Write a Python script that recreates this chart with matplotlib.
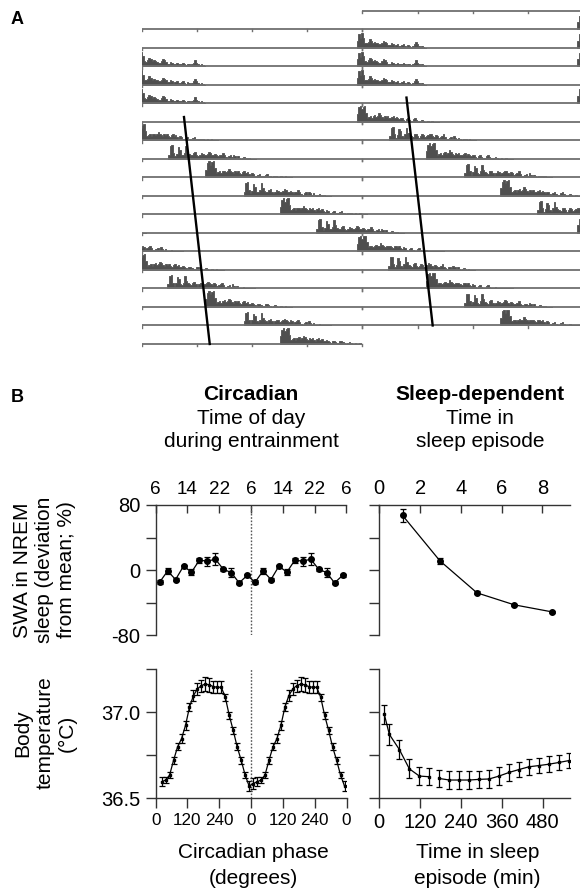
import numpy as np
import matplotlib
matplotlib.use('Agg')
import matplotlib.pyplot as plt
from matplotlib import font_manager

plt.rcParams['font.family'] = ['Liberation Sans', 'DejaVu Sans']
plt.rcParams['axes.unicode_minus'] = False

# ---------------- panel A: SWA raster (double plotted) ----------------
# sleep episodes, hours from the start of day 1
ep_start = [47.4, 71.4, 95.4, 143.4, 170.9, 198.9, 227.1, 255.0, 283.0, 311.4, 338.8, 366.9, 395.1, 423.0]
ep_len = [7.5, 7.5, 7.5, 8.9, 9.5, 9.5, 9.5, 9.5, 9.5, 9.5, 9.5, 9.5, 9.5, 9.5]
ep_kind = [0, 0, 0, 1, 2, 1, 2, 1, 2, 1, 2, 1, 2, 1]

# SWA profiles in 10-min bins (fraction of row height)
prof_base = [0.4, 0.8, 0.55, 0.85, 0.6, 0.3, 0.25, 0.35, 0.5, 0.4, 0.3, 0.35, 0.3, 0.25, 0.2,
             0.2, 0.3, 0.4, 0.35, 0.25, 0.15, 0.15, 0.25, 0.2, 0.1, 0.15, 0.2, 0.1, 0.1, 0.15,
             0.2, 0.1, 0.05, 0.15, 0.1, 0.05, 0.1, 0.2, 0.35, 0.2, 0.1, 0.05, 0.1, 0.05, 0.0]
prof_fd1 = [0.45, 0.85, 0.95, 0.75, 0.9, 0.95, 0.55, 0.25, 0.3, 0.35, 0.25, 0.35, 0.4, 0.3, 0.35,
            0.5, 0.4, 0.3, 0.25, 0.35, 0.3, 0.35, 0.25, 0.2, 0.3, 0.35, 0.25, 0.3, 0.2, 0.15,
            0.25, 0.2, 0.1, 0.05, 0.15, 0.2, 0.1, 0.05, 0.05, 0.15, 0.2, 0.1, 0.05, 0.0, 0.05,
            0.1, 0.05, 0.0, 0.0, 0.05, 0.0, 0.0, 0.05, 0.0, 0.0, 0.0, 0.0]
prof_fd2 = [0.25, 0.75, 0.8, 0.35, 0.15, 0.3, 0.7, 0.55, 0.25, 0.2, 0.35, 0.75, 0.45, 0.3, 0.25,
            0.2, 0.35, 0.4, 0.25, 0.15, 0.25, 0.35, 0.3, 0.2, 0.25, 0.3, 0.4, 0.35, 0.25, 0.2,
            0.3, 0.25, 0.15, 0.2, 0.25, 0.35, 0.2, 0.1, 0.05, 0.15, 0.2, 0.1, 0.25, 0.15, 0.05,
            0.15, 0.05, 0.0, 0.05, 0.1, 0.05, 0.0, 0.05, 0.0, 0.0, 0.0, 0.0]
profiles = [prof_base, prof_fd1, prof_fd2]

# circadian phase markers (hour in plot, row)
phase_left_h = [4.6, 7.4]
phase_left_row = [5.75, 18]
phase_right_h = [28.8, 31.65]
phase_right_row = [4.7, 17]

# ---------------- panel B ----------------
swa_hour = [7, 9, 11, 13, 15, 17, 19, 21, 23, 25, 27, 29]
swa_circ = [-14.7, -1, -11.5, 4.9, -2.5, 12.3, 11, 13.5, 1.2, -3, -15.6, -6.5]
swa_circ_err = [2, 4, 2, 2, 4, 3, 5.3, 7.4, 2, 6, 2, 2]

swa_sleep_h = [1.14, 2.97, 4.79, 6.62, 8.46]
swa_sleep = [67.2, 11.5, -27.9, -42.6, -51.2]
swa_sleep_err = [8, 4, 2, 1.5, 1.5]

temp_phase = [7.5, 22.5, 37.5, 52.5, 67.5, 82.5, 97.5, 112.5, 127.5, 142.5, 157.5, 172.5,
              187.5, 202.5, 217.5, 232.5, 247.5, 262.5, 277.5, 292.5, 307.5, 322.5, 337.5, 352.5]
temp_circ = [36.585, 36.596, 36.606, 36.635, 36.721, 36.798, 36.846, 36.923, 37.029, 37.096,
             37.135, 37.154, 37.163, 37.158, 37.148, 37.144, 37.144, 37.087, 36.981, 36.894,
             36.798, 36.721, 36.635, 36.571]
temp_circ_err = [0.03, 0.025, 0.02, 0.02, 0.02, 0.02, 0.025, 0.025, 0.025, 0.03, 0.035, 0.035,
                 0.04, 0.04, 0.035, 0.035, 0.035, 0.02, 0.02, 0.02, 0.02, 0.02, 0.02, 0.03]

tsleep_a = [14.7, 29.4, 58.8, 88.2, 117.6, 147.0]
temp_sleep_a = [36.987, 36.871, 36.783, 36.671, 36.629, 36.625]
temp_sleep_a_err = [0.055, 0.06, 0.055, 0.055, 0.05, 0.05]
tsleep_b = [176.3, 205.7, 235.1, 264.5, 293.9, 322.3, 351.7, 381.1, 410.5, 439.9, 469.3, 498.7, 528.0, 557.4]
temp_sleep_b = [36.615, 36.606, 36.606, 36.606, 36.610, 36.612, 36.629, 36.650, 36.667, 36.683,
                36.690, 36.698, 36.708, 36.719]
temp_sleep_b_err = [0.05, 0.05, 0.05, 0.05, 0.05, 0.05, 0.05, 0.05, 0.045, 0.045, 0.045, 0.045, 0.045, 0.045]

circ_top_ticks = [6, 14, 22, 30, 38, 46, 54]
circ_top_labels = ['6', '14', '22', '6', '14', '22', '6']
circ_bot_ticks = [0, 120, 240, 360, 480, 600, 720]
circ_bot_labels = ['0', '120', '240', '0', '120', '240', '0']

W, H = 580, 891


def rect(x0, y0, x1, y1):
    return [x0 / W, 1 - y1 / H, (x1 - x0) / W, (y1 - y0) / H]


# narrow face for the crowded circadian tick labels, if there is one
font_names = {f.name for f in font_manager.fontManager.ttflist}
if 'Liberation Sans Narrow' in font_names:
    narrow = dict(family='Liberation Sans Narrow', fontsize=14.5)
    narrow_top = dict(family='Liberation Sans Narrow', fontsize=14.5)
else:
    narrow = dict(fontsize=12.3)
    narrow_top = dict(fontsize=13.6)

fig = plt.figure(figsize=(5.8, 8.91), dpi=100)
line_gray = '#707070'
trace_gray = '#4f4f4f'
spine_col = '#333333'

# ---- panel A
axA = fig.add_axes(rect(141.7, 1.25, 583, 353.25))
axA.set_xlim(0, 48)
axA.set_ylim(18.5, -0.5)
axA.axis('off')
nrows = 19
for r in range(nrows):
    if r >= 1:
        axA.plot([0, 24], [r, r], color=line_gray, lw=1.3, solid_capstyle='butt')
        ticks = [0, 6, 12, 18, 24] if r in (1, nrows - 1) else [0, 24]
        for tx in ticks:
            axA.plot([tx, tx], [r, r + 0.13], color=line_gray, lw=1.0)
    if r <= nrows - 2:
        axA.plot([24, 48], [r, r], color=line_gray, lw=1.3, solid_capstyle='butt')
        ticks = [24, 30, 36, 42] if r in (0, nrows - 2) else [24]
        for tx in ticks:
            axA.plot([tx, tx], [r, r + 0.13], color=line_gray, lw=1.0)

for s, d, k in zip(ep_start, ep_len, ep_kind):
    prof = np.array(profiles[k])
    n = len(prof)
    t = s + d / n * np.arange(n + 1)
    v = np.append(prof, 0.0)
    for r in range(nrows):
        lo = 24 * (r - 1)
        x = t - lo
        if x.max() < 0 or x.min() > 48:
            continue
        mask = np.ones_like(x, dtype=bool)
        if r == 0:
            mask = x >= 24
        if r == nrows - 1:
            mask = x <= 24
        axA.fill_between(x, r, r - 0.9 * v, where=mask, step='post',
                         color=trace_gray, lw=0.6, edgecolor=trace_gray)

axA.plot(phase_left_h, phase_left_row, color='k', lw=1.7)
axA.plot(phase_right_h, phase_right_row, color='k', lw=1.7)

fig.text(17 / W, 1 - 19 / H, 'A', fontsize=13, fontweight='bold', ha='center', va='center')
fig.text(17 / W, 1 - 397 / H, 'B', fontsize=13, fontweight='bold', ha='center', va='center')

# ---- panel B axes
cx0, cx1 = 155.7, 346.5
sx0, sx1 = 379.3, 570
ax_sc = fig.add_axes(rect(cx0, 505, cx1, 635.3))
ax_ss = fig.add_axes(rect(sx0, 505, sx1, 635.3))
ax_tc = fig.add_axes(rect(cx0, 669, cx1, 798.3))
ax_ts = fig.add_axes(rect(sx0, 669, sx1, 798.3))

tick_fs = 14.5
for ax in (ax_sc, ax_ss, ax_tc, ax_ts):
    ax.patch.set_alpha(0)
    for sp in ax.spines.values():
        sp.set_color(spine_col)
        sp.set_linewidth(1.0)
    ax.spines['right'].set_visible(False)
    ax.tick_params(axis='y', direction='out', length=7.5, width=1.0, color=spine_col,
                   pad=3.5, labelsize=tick_fs)

for ax in (ax_sc, ax_ss):
    ax.spines['bottom'].set_visible(False)
    ax.set_ylim(-80, 80)
    ax.set_yticks([-80, -40, 0, 40, 80])
    ax.xaxis.tick_top()
    ax.tick_params(axis='x', direction='in', length=6, width=1.0, color=spine_col,
                   pad=5, labelsize=tick_fs, top=True, bottom=False)
for ax in (ax_tc, ax_ts):
    ax.spines['top'].set_visible(False)
    ax.set_ylim(36.5, 37.25)
    ax.set_yticks([36.5, 36.75, 37.0, 37.25])
    ax.tick_params(axis='x', direction='out', length=7.5, width=1.0, color=spine_col,
                   pad=3, labelsize=tick_fs)

ax_sc.set_yticklabels(['-80', '', '0', '', '80'])
ax_ss.set_yticklabels([])
ax_tc.set_yticklabels(['36.5', '', '37.0', ''])
ax_ts.set_yticklabels([])

# circadian SWA, double plotted
hours2 = swa_hour + [h + 24 for h in swa_hour]
ax_sc.errorbar(hours2, swa_circ * 2, yerr=swa_circ_err * 2, color='k', lw=0.9,
               marker='o', ms=4.0, capsize=2.5, elinewidth=0.9, capthick=0.9)
ax_sc.set_xlim(6, 54)
ax_sc.set_xticks(circ_top_ticks)
ax_sc.set_xticklabels(circ_top_labels, **narrow_top)
ax_sc.axvline(30, color='#555555', lw=1.0, ls=(0, (1.2, 1.2)))

ax_ss.errorbar(swa_sleep_h, swa_sleep, yerr=swa_sleep_err, color='k', lw=0.9,
               marker='o', ms=4.0, capsize=2.5, elinewidth=0.9, capthick=0.9)
ax_ss.set_xlim(0, 9.35)
ax_ss.set_xticks([0, 2, 4, 6, 8])

# circadian temperature, double plotted
ph = temp_phase[1:] + [p + 360 for p in temp_phase]
tv = temp_circ[1:] + temp_circ
te = temp_circ_err[1:] + temp_circ_err
ax_tc.errorbar(ph, tv, yerr=te, color='k', lw=0.9, marker='s', ms=1.8,
               capsize=1.9, elinewidth=0.9, capthick=0.9)
ax_tc.set_xlim(0, 720)
ax_tc.set_xticks(circ_bot_ticks)
ax_tc.set_xticklabels(circ_bot_labels, **narrow)
ax_tc.axvline(360, color='#555555', lw=1.0, ls=(0, (1.2, 1.2)))

for tt, vv, ee in ((tsleep_a, temp_sleep_a, temp_sleep_a_err),
                   (tsleep_b, temp_sleep_b, temp_sleep_b_err)):
    ax_ts.errorbar(tt, vv, yerr=ee, color='k', lw=0.9, marker='s', ms=1.8,
                   capsize=2.5, elinewidth=0.9, capthick=0.9)
ax_ts.set_xlim(0, 560)
ax_ts.set_xticks([0, 120, 240, 360, 480])

# titles and labels
lab_fs = 15
ccx = 251
scx = 480
fig.text(ccx / W, 1 - 394 / H, 'Circadian', fontsize=lab_fs, fontweight='bold', ha='center', va='center')
fig.text(ccx / W, 1 - 418 / H, 'Time of day', fontsize=lab_fs, ha='center', va='center')
fig.text(ccx / W, 1 - 442 / H, 'during entrainment', fontsize=lab_fs, ha='center', va='center')
fig.text(scx / W, 1 - 394 / H, 'Sleep-dependent', fontsize=lab_fs, fontweight='bold', ha='center', va='center')
fig.text(scx / W, 1 - 418 / H, 'Time in', fontsize=lab_fs, ha='center', va='center')
fig.text(scx / W, 1 - 442 / H, 'sleep episode', fontsize=lab_fs, ha='center', va='center')

fig.text(253.6 / W, 1 - 853 / H, 'Circadian phase', fontsize=lab_fs, ha='center', va='center')
fig.text(253.6 / W, 1 - 878 / H, '(degrees)', fontsize=lab_fs, ha='center', va='center')
fig.text(477.5 / W, 1 - 853 / H, 'Time in sleep', fontsize=lab_fs, ha='center', va='center')
fig.text(477.5 / W, 1 - 878 / H, 'episode (min)', fontsize=lab_fs, ha='center', va='center')

fig.text(45 / W, 1 - 570 / H, 'SWA in NREM\nsleep (deviation\nfrom mean; %)', fontsize=lab_fs,
         rotation=90, ha='center', va='center', multialignment='center', linespacing=1.2)
fig.text(45 / W, 1 - 733 / H, 'Body\ntemperature\n(°C)', fontsize=lab_fs,
         rotation=90, ha='center', va='center', multialignment='center', linespacing=1.2)

fig.savefig('out.png', dpi=100)
